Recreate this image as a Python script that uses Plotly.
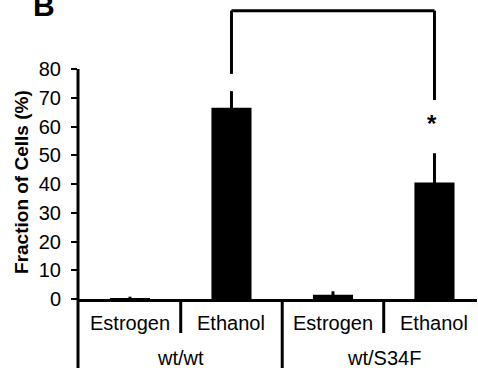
import plotly.graph_objects as go

conditions = ["Estrogen", "Ethanol", "Estrogen", "Ethanol"]
groups = ["wt/wt", "wt/S34F"]
values = [0.2, 66.5, 1.5, 40.5]
errors = [0.6, 5.8, 1.2, 10.2]
y_ticks = [0, 10, 20, 30, 40, 50, 60, 70, 80]

FONT = "Liberation Sans, Arial, sans-serif"
xpos = list(range(len(values)))

fig = go.Figure()
fig.add_trace(go.Bar(
    x=xpos, y=values, width=0.395,
    marker=dict(color="black", line=dict(width=0)),
    error_y=dict(type="data", array=errors, visible=True, color="black",
                 thickness=3, width=0),
))

XMIN, XMAX = -0.512, 3.419
YMAX = 102.26

shapes = []
# y axis line (0..80)
shapes.append(dict(type="line", xref="paper", yref="y", x0=0, x1=0, y0=0, y1=80,
                   line=dict(color="black", width=3)))
# bracket
shapes.append(dict(type="line", xref="x", yref="y", x0=1, x1=3, y0=100.3, y1=100.3,
                   line=dict(color="black", width=3)))
shapes.append(dict(type="line", xref="x", yref="y", x0=1, x1=1, y0=78.3, y1=100.3,
                   line=dict(color="black", width=3)))
shapes.append(dict(type="line", xref="x", yref="y", x0=3, x1=3, y0=69.2, y1=100.3,
                   line=dict(color="black", width=3)))
# category separators below axis
short_y = -0.1156
long_y = -0.24
shapes.append(dict(type="line", xref="paper", yref="paper", x0=0, x1=0, y0=0, y1=long_y,
                   line=dict(color="black", width=3)))
for xs, yb in [(0.5, short_y), (1.5, long_y), (2.5, short_y)]:
    shapes.append(dict(type="line", xref="x", yref="paper", x0=xs, x1=xs, y0=0, y1=yb,
                       line=dict(color="black", width=3)))

annotations = []
for i, c in enumerate(conditions):
    annotations.append(dict(x=i, y=-0.0816, xref="x", yref="paper", text=c,
                            showarrow=False, xanchor="center", yanchor="middle",
                            font=dict(family=FONT, size=20, color="black")))
for gi, g in enumerate(groups):
    annotations.append(dict(x=2 * gi + 0.5, y=-0.2007, xref="x", yref="paper", text=g,
                            showarrow=False, xanchor="center", yanchor="middle",
                            font=dict(family=FONT, size=20, color="black")))
# y title
annotations.append(dict(x=-0.1404, y=40.7, xref="paper", yref="y",
                        text="<b>Fraction of Cells (%)</b>", textangle=-90,
                        showarrow=False, xanchor="center", yanchor="middle",
                        font=dict(family=FONT, size=19, color="black")))
# significance star
annotations.append(dict(x=2.98, y=61.0, xref="x", yref="y", text="<b>*</b>",
                        showarrow=False, xanchor="center", yanchor="middle",
                        font=dict(family=FONT, size=24, color="black")))
# panel letter
annotations.append(dict(x=-0.1178, y=1.0, xref="paper", yref="paper", text="<b>B</b>",
                        showarrow=False, xanchor="left", yanchor="middle",
                        font=dict(family=FONT, size=30, color="black")))

fig.update_layout(
    width=478, height=368,
    margin=dict(l=78, r=1, t=5, b=69),
    paper_bgcolor="white", plot_bgcolor="white",
    showlegend=False,
    shapes=shapes, annotations=annotations,
    xaxis=dict(range=[XMIN, XMAX], showgrid=False, zeroline=False,
               showline=True, linecolor="black", linewidth=3,
               showticklabels=False, ticks=""),
    yaxis=dict(range=[0, YMAX], showgrid=False, zeroline=False, showline=False,
               tickvals=y_ticks, ticktext=[str(v) for v in y_ticks],
               ticks="outside", ticklen=6, tickwidth=2, tickcolor="black",
               ticklabelstandoff=6,
               tickfont=dict(family=FONT, size=20, color="black")),
)

fig.write_html("out.html", config={"displayModeBar": False},
               post_script="document.body.style.margin='0';document.body.style.padding='0';")
